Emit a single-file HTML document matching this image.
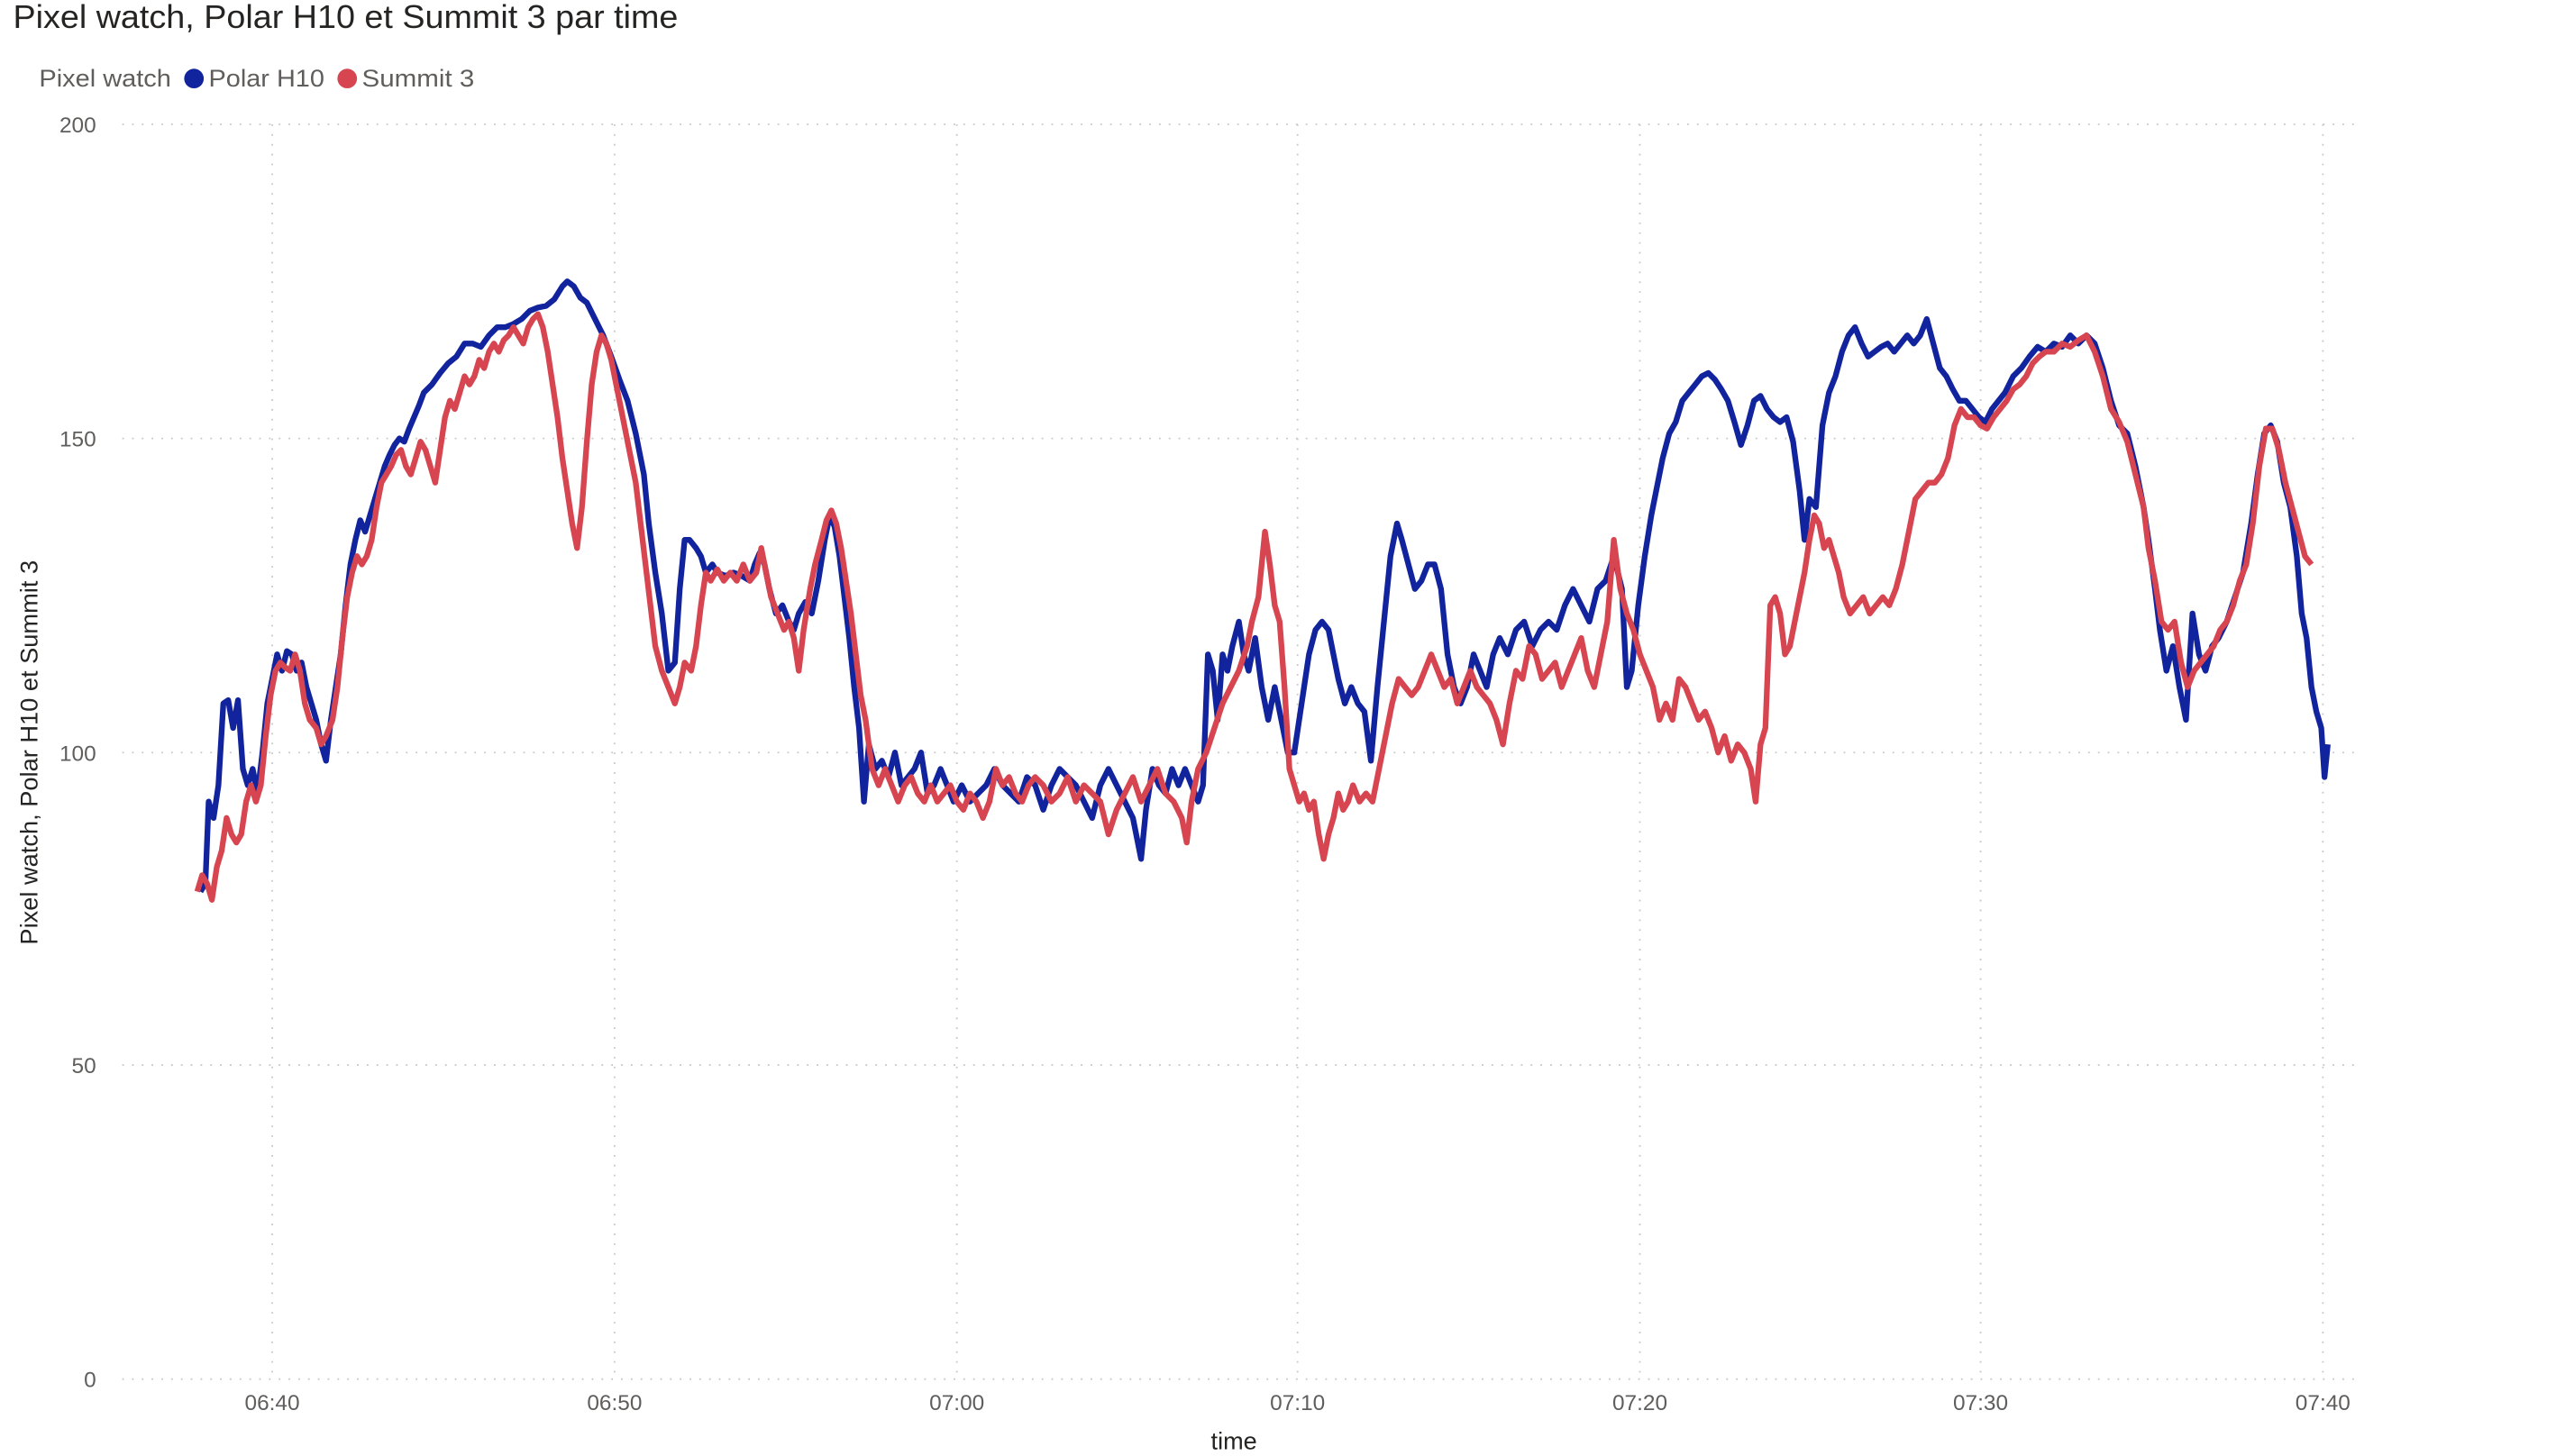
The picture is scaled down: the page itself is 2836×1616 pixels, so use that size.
<!DOCTYPE html>
<html><head><meta charset="utf-8"><style>
html,body{margin:0;padding:0;background:#fff;}
svg{display:block;}
text{font-family:"Liberation Sans",sans-serif;}
</style></head><body>
<svg width="2836" height="1616" viewBox="0 0 1568 890" preserveAspectRatio="none" xmlns="http://www.w3.org/2000/svg">
<rect width="1568" height="890" fill="#fff"/>
<text x="8" y="17" font-size="20" textLength="408" lengthAdjust="spacingAndGlyphs" fill="#252423">Pixel watch, Polar H10 et Summit 3 par time</text>
<text x="24" y="53" font-size="15" textLength="81" lengthAdjust="spacingAndGlyphs" fill="#605e5c">Pixel watch</text>
<circle cx="119" cy="48" r="6" fill="#12239e"/>
<text x="128" y="53" font-size="15" textLength="71" lengthAdjust="spacingAndGlyphs" fill="#605e5c">Polar H10</text>
<circle cx="213" cy="48" r="6" fill="#d64550"/>
<text x="222" y="53" font-size="15" textLength="69" lengthAdjust="spacingAndGlyphs" fill="#605e5c">Summit 3</text>
<g stroke="#c8c8c8" stroke-width="1" stroke-dasharray="1 5">
<line x1="75" y1="76" x2="1445" y2="76"/><line x1="75" y1="268" x2="1445" y2="268"/><line x1="75" y1="460" x2="1445" y2="460"/><line x1="75" y1="651" x2="1445" y2="651"/><line x1="75" y1="843" x2="1445" y2="843"/>
<line x1="167" y1="76" x2="167" y2="843"/><line x1="377" y1="76" x2="377" y2="843"/><line x1="587" y1="76" x2="587" y2="843"/><line x1="796" y1="76" x2="796" y2="843"/><line x1="1006" y1="76" x2="1006" y2="843"/><line x1="1215" y1="76" x2="1215" y2="843"/><line x1="1425" y1="76" x2="1425" y2="843"/>
</g>
<g font-size="13.5" fill="#605e5c" text-anchor="end">
<text x="59" y="81">200</text><text x="59" y="273">150</text><text x="59" y="465">100</text><text x="59" y="656">50</text><text x="59" y="848">0</text>
</g>
<g font-size="13.5" fill="#605e5c" text-anchor="middle">
<text x="167" y="862">06:40</text><text x="377" y="862">06:50</text><text x="587" y="862">07:00</text><text x="796" y="862">07:10</text><text x="1006" y="862">07:20</text><text x="1215" y="862">07:30</text><text x="1425" y="862">07:40</text>
</g>
<text x="757" y="886" font-size="15" fill="#252423" text-anchor="middle">time</text>
<text transform="translate(23,460) rotate(-90)" font-size="15" fill="#252423" text-anchor="middle">Pixel watch, Polar H10 et Summit 3</text>
<polyline fill="none" stroke="#12239e" stroke-width="3.5" stroke-linejoin="round" points="123,545 126,540 128,490 131,500 134,480 137,430 140,428 143,445 146,428 149,470 152,480 155,470 158,485 161,460 164,430 167,415 170,400 173,410 176,398 179,400 182,410 185,405 188,420 191,430 194,440 197,455 200,465 203,440 206,420 209,400 212,370 215,345 218,330 221,318 224,325 227,315 230,305 233,295 236,285 239,278 242,272 245,268 248,270 251,262 254,255 257,248 260,240 265,235 270,228 275,222 280,218 285,210 290,210 295,212 300,205 305,200 310,200 315,198 320,195 325,190 330,188 335,187 340,183 345,175 348,172 352,175 356,182 360,185 365,195 370,205 375,218 380,232 385,245 390,265 395,290 398,320 402,350 406,375 410,410 414,405 417,360 420,330 423,330 427,335 430,340 433,350 437,345 440,350 445,352 450,350 455,352 460,355 463,345 466,338 469,345 472,360 476,375 480,370 484,380 487,385 490,375 494,368 498,375 502,355 506,330 509,315 512,322 515,340 518,365 521,390 524,420 527,445 530,490 533,455 537,470 541,465 545,475 549,460 553,480 557,475 561,470 565,460 569,485 573,480 577,470 581,480 585,490 590,480 595,490 600,485 605,480 610,470 615,480 620,485 625,490 630,475 635,480 640,495 645,480 650,470 655,475 660,480 665,490 670,500 675,480 680,470 685,480 690,490 695,500 700,525 703,495 707,470 711,480 715,485 719,470 723,480 727,470 731,480 735,490 738,480 741,400 744,410 747,440 750,400 753,410 756,395 760,380 763,400 766,410 770,390 774,420 778,440 782,420 786,440 790,460 794,460 797,440 800,420 803,400 807,385 811,380 815,385 818,400 821,415 825,430 829,420 833,430 837,435 841,465 845,420 849,380 853,340 857,320 860,330 864,345 868,360 872,355 876,345 880,345 884,360 888,400 892,420 896,430 900,420 904,400 908,410 912,420 916,400 920,390 925,400 930,385 935,380 940,395 945,385 950,380 955,385 960,370 965,360 970,370 975,380 980,360 985,355 990,340 995,360 998,420 1001,410 1005,370 1009,340 1013,315 1017,295 1020,280 1024,265 1028,258 1032,245 1036,240 1040,235 1044,230 1048,228 1052,232 1056,238 1060,245 1064,258 1068,272 1072,260 1076,245 1080,242 1084,250 1088,255 1092,258 1096,255 1100,270 1104,300 1107,330 1110,305 1114,310 1118,260 1122,240 1126,230 1130,215 1134,205 1138,200 1142,210 1146,218 1150,215 1154,212 1158,210 1162,215 1166,210 1170,205 1174,210 1178,205 1182,195 1186,210 1190,225 1194,230 1198,238 1202,245 1206,245 1210,250 1214,255 1218,258 1222,250 1226,245 1230,240 1235,230 1240,225 1245,218 1250,212 1255,215 1260,210 1265,212 1270,205 1275,210 1280,205 1285,210 1290,225 1295,245 1300,260 1305,265 1310,285 1315,310 1318,330 1322,360 1325,385 1329,410 1333,395 1337,420 1341,440 1345,375 1349,400 1353,410 1357,395 1361,390 1366,380 1371,365 1376,350 1381,320 1385,290 1389,265 1393,260 1397,270 1401,295 1405,310 1409,340 1412,375 1415,390 1418,420 1421,435 1424,445 1426,475 1428,455"/>
<polyline fill="none" stroke="#d64550" stroke-width="3.5" stroke-linejoin="round" points="121,545 124,535 127,540 130,550 133,530 136,520 139,500 142,510 145,515 148,510 151,490 154,480 157,490 160,480 163,450 166,425 169,410 172,405 175,408 178,410 181,400 184,410 187,430 190,440 194,445 197,455 200,450 204,440 207,420 210,390 213,365 216,350 219,340 222,345 225,340 228,330 231,310 234,295 237,290 240,285 243,278 246,275 249,285 252,290 255,280 258,270 261,275 264,285 267,295 270,275 273,255 276,245 279,250 282,240 285,230 288,235 291,230 294,220 297,225 300,215 303,210 306,215 309,208 312,205 315,200 318,205 321,210 324,200 327,195 330,192 333,200 336,215 339,235 342,255 345,280 348,300 351,320 354,335 357,310 360,270 363,235 366,215 369,205 372,210 375,220 378,235 381,250 384,265 387,280 390,295 393,320 396,345 399,370 402,395 406,410 410,420 414,430 417,420 420,405 424,410 427,395 430,370 433,350 436,355 440,348 444,355 448,350 452,355 456,345 460,355 464,350 467,335 470,350 473,365 477,375 481,385 484,380 487,390 490,410 493,385 497,360 500,345 504,330 507,318 510,312 513,320 516,335 519,355 522,375 525,400 528,425 531,440 535,470 539,480 543,470 547,480 551,490 555,480 559,475 563,485 567,490 571,480 575,490 579,485 583,480 587,490 591,495 595,485 599,490 603,500 607,490 611,470 615,480 619,475 623,485 627,490 631,480 635,475 640,480 645,490 650,485 655,475 660,490 665,480 670,485 675,490 680,510 685,495 690,485 695,475 700,490 705,480 710,470 715,485 720,490 725,500 728,515 731,490 735,470 740,460 745,445 750,430 755,420 760,410 765,395 768,380 772,365 776,325 779,345 782,370 785,380 788,420 791,470 794,480 797,490 800,485 803,495 806,490 809,510 812,525 815,510 818,500 821,485 824,495 827,490 830,480 834,490 838,485 842,490 846,470 850,450 854,430 858,415 862,420 866,425 870,420 874,410 878,400 882,410 886,420 890,415 894,430 898,420 902,410 906,420 910,425 914,430 918,440 922,455 926,430 930,410 934,415 938,395 942,400 946,415 950,410 954,405 958,420 962,410 966,400 970,390 974,410 978,420 982,400 986,380 990,330 994,360 998,375 1002,385 1006,400 1010,410 1014,420 1018,440 1022,430 1026,440 1030,415 1034,420 1038,430 1042,440 1046,435 1050,445 1054,460 1058,450 1062,465 1066,455 1070,460 1074,470 1077,490 1080,455 1083,445 1086,370 1089,365 1092,375 1095,400 1098,395 1101,380 1104,365 1107,350 1110,330 1113,315 1116,320 1119,335 1122,330 1125,340 1128,350 1131,365 1135,375 1139,370 1143,365 1147,375 1151,370 1155,365 1159,370 1163,360 1167,345 1171,325 1175,305 1179,300 1183,295 1187,295 1191,290 1195,280 1199,260 1203,250 1207,255 1211,255 1215,260 1219,262 1223,255 1227,250 1231,245 1235,238 1239,235 1243,230 1247,222 1251,218 1255,215 1260,215 1265,210 1270,212 1275,208 1280,205 1285,215 1290,230 1295,250 1300,258 1305,270 1310,290 1315,310 1318,335 1322,355 1326,380 1330,385 1334,380 1338,405 1342,420 1346,410 1350,405 1354,400 1358,395 1362,385 1366,380 1370,370 1374,355 1378,345 1382,320 1386,285 1390,262 1394,262 1398,275 1402,295 1406,310 1410,325 1414,340 1418,345"/>
</svg>
</body></html>
